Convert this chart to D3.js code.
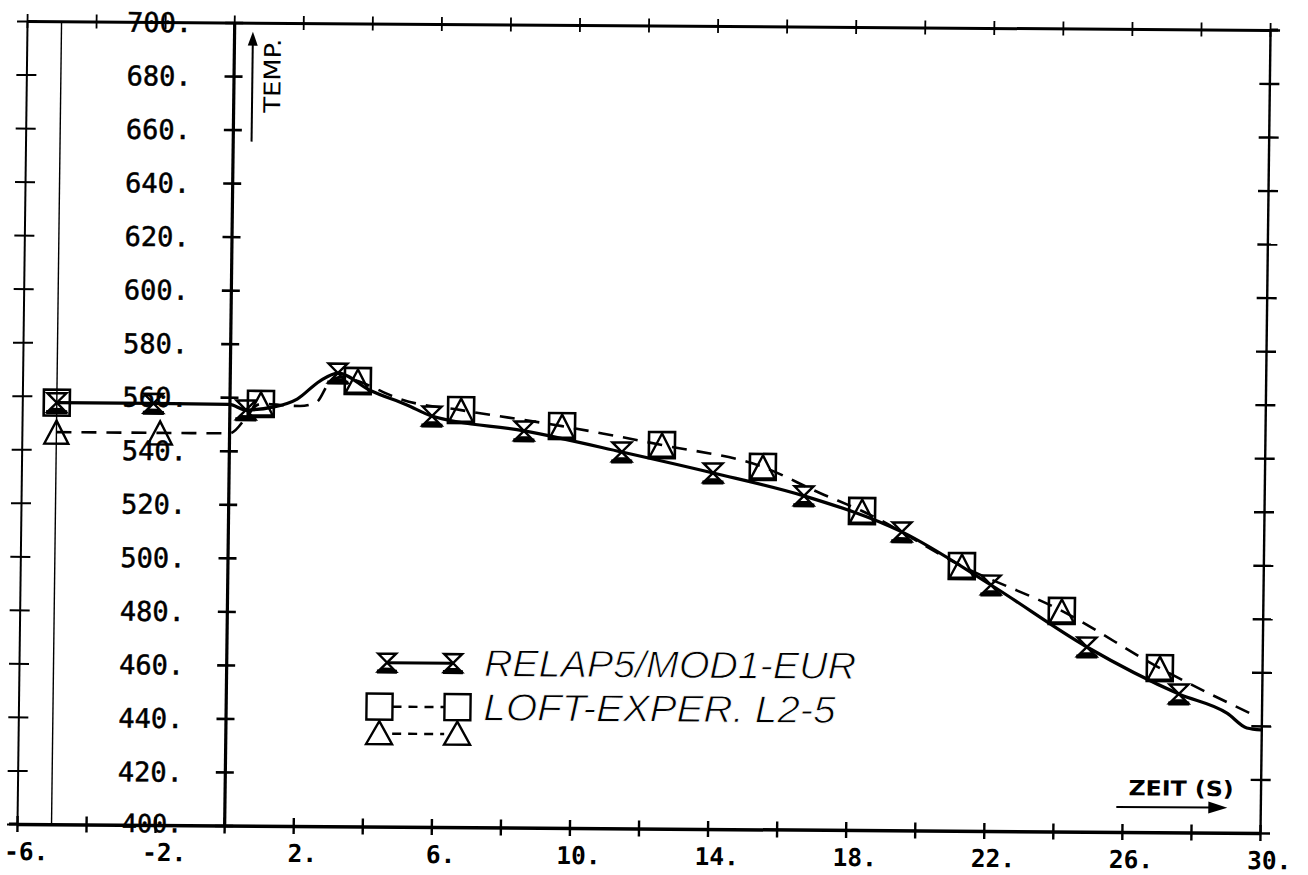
<!DOCTYPE html>
<html>
<head>
<meta charset="utf-8">
<script src="https://cdn.jsdelivr.net/npm/d3@7"></script>
<style>
  html, body { margin: 0; padding: 0; background: #fff; }
  svg { display: block; }
</style>
</head>
<body>
<script>
// ---- data -------------------------------------------------------------
// RELAP5/MOD1-EUR calculation (solid line), time in s, temperature
const relapTime = [-5, -2.2, 0, 0.48, 1.26, 1.96, 2.61, 3.13, 4.06, 5.14, 5.87, 8.54, 11.38, 14.03, 16.67, 19.52, 22.12, 24.92, 27.6, 29.0, 29.58, 30];
const relapTemp = [557.5, 557.5, 557.3, 555.3, 556.4, 559.5, 566.3, 569.3, 563.0, 557.6, 553.5, 548.2, 540.6, 533.0, 524.7, 511.5, 491.9, 469.0, 451.7, 444.7, 439.2, 438.5];
// hourglass symbols placed on the calculated curve
const relapMarkTime = [-5, -2.2, 0.48, 3.13, 5.87, 8.54, 11.38, 14.03, 16.67, 19.52, 22.12, 24.92, 27.6];
const relapMarkTemp = [557.5, 557.5, 555.3, 569.3, 553.5, 548.2, 540.6, 533.0, 524.7, 511.5, 491.9, 469.0, 451.7];

// LOFT experiment L2-5 (dashed line)
const loftTime = [-5, -2, 0, 0.91, 2.04, 2.53, 2.9, 3.3, 3.71, 5.0, 6.71, 9.64, 12.54, 15.47, 17.13, 18.36, 21.27, 24.18, 27.04, 29.9];
const loftTemp = [546.5, 546.5, 546.5, 557.6, 556.9, 558.5, 566.0, 568.0, 566.4, 559.5, 555.8, 550.1, 543.3, 535.4, 525.8, 519.2, 498.9, 482.4, 461.3, 443.3];
// measurement symbols: squares and triangles
const squareTime = [-5, 0.91, 3.71, 6.71, 9.64, 12.54, 15.47, 18.36, 21.27, 24.18, 27.04];
const squareTemp = [557.5, 557.6, 566.4, 555.8, 550.1, 543.3, 535.4, 519.2, 498.9, 482.4, 461.3];
const triangleTime = [-5, -2, 0.91, 3.71, 6.71, 9.64, 12.54, 15.47, 18.36, 21.27, 24.18, 27.04];
const triangleTemp = [546.5, 546.5, 557.6, 566.4, 555.8, 550.1, 543.3, 535.4, 519.2, 498.9, 482.4, 461.3];

// start of the recorded interval
const refTime = [-5];

// axes
const timeTicks = [-6, -4, -2, 0, 2, 4, 6, 8, 10, 12, 14, 16, 18, 20, 22, 24, 26, 28, 30];
const timeLabels = [-6, -2, 2, 6, 10, 14, 18, 22, 26, 30];
const tempTicks = [400, 420, 440, 460, 480, 500, 520, 540, 560, 580, 600, 620, 640, 660, 680, 700];

const legendNames = ["RELAP5/MOD1-EUR", "LOFT-EXPER. L2-5"];

// ---- drawing ----------------------------------------------------------
const W = 1308, H = 875;
const svg = d3.select("body").append("svg").attr("width", W).attr("height", H);
svg.append("rect").attr("width", W).attr("height", H).attr("fill", "#fff");

// the plotted sheet sits slightly askew
const g = svg.append("g").attr("transform", "matrix(1,0.0072,-0.0125,1,10.3,-0.12)");

const x = d3.scaleLinear().domain([-6, 30]).range([17, 1260]);
const y = d3.scaleLinear().domain([400, 700]).range([824, 21]);

function crossTicks(sel, len, horizontal, w) {
  sel.selectAll(".tick line")
    .attr("stroke", "#000").attr("stroke-width", w)
    .attr(horizontal ? "y1" : "x1", -len)
    .attr(horizontal ? "y2" : "x2", len);
}

// thin marker line at t = -5 s
g.selectAll(".refline").data(refTime).join("line")
  .attr("x1", d => x(d)).attr("x2", d => x(d))
  .attr("y1", y(400)).attr("y2", y(700))
  .attr("stroke", "#000").attr("stroke-width", 1.4);

// bottom axis with labels
const bottomAxis = g.append("g").attr("transform", `translate(0,${y(400)})`)
  .call(d3.axisBottom(x).tickValues(timeTicks).tickSizeInner(0).tickSizeOuter(0).tickPadding(0)
    .tickFormat(d => timeLabels.includes(d) ? d + "." : ""));
bottomAxis.select(".domain").attr("stroke", "#000").attr("stroke-width", 3.5);
crossTicks(bottomAxis, 8, true, 2.4);
bottomAxis.selectAll(".tick text")
  .attr("x", 9).attr("y", 27.5).attr("dy", "0.35em")
  .attr("fill", "#000").attr("text-anchor", "middle")
  .style("font-family", "'DejaVu Sans Mono', monospace").style("font-size", "24.5px").style("font-weight", "bold");
// frame line runs a little past the left edge
g.append("line").attr("x1", 9).attr("x2", x(-6)).attr("y1", y(400)).attr("y2", y(400))
  .attr("stroke", "#000").attr("stroke-width", 3);

// top frame line
const topAxis = g.append("g").attr("transform", `translate(0,${y(700)})`)
  .call(d3.axisTop(x).tickValues(timeTicks).tickSizeInner(0).tickSizeOuter(0).tickFormat(""));
topAxis.select(".domain").attr("stroke", "#000").attr("stroke-width", 3);
crossTicks(topAxis, 7, true, 1.8);
g.append("line").attr("x1", x(30)).attr("x2", x(30) + 8).attr("y1", y(700)).attr("y2", y(700))
  .attr("stroke", "#000").attr("stroke-width", 3);

// left frame line
const leftFrame = g.append("g").attr("transform", `translate(${x(-6)},0)`)
  .call(d3.axisLeft(y).tickValues(tempTicks).tickSizeInner(0).tickSizeOuter(0).tickFormat(""));
leftFrame.select(".domain").attr("stroke", "#000").attr("stroke-width", 2);
crossTicks(leftFrame, 10, false, 2);

// right frame line
const rightFrame = g.append("g").attr("transform", `translate(${x(30)},0)`)
  .call(d3.axisRight(y).tickValues(tempTicks).tickSizeInner(0).tickSizeOuter(0).tickFormat(""));
rightFrame.select(".domain").attr("stroke", "#000").attr("stroke-width", 2.4);
crossTicks(rightFrame, 10, false, 2.4);

// temperature axis at t = 0 with labels
const yAxis = g.append("g").attr("transform", `translate(${x(0)},0)`)
  .call(d3.axisLeft(y).tickValues(tempTicks).tickSizeInner(0).tickSizeOuter(0).tickPadding(0)
    .tickFormat(d => d + "."));
yAxis.select(".domain").attr("stroke", "#000").attr("stroke-width", 3.2);
crossTicks(yAxis, 9, false, 2.6);
yAxis.selectAll(".tick text")
  .attr("x", -42).attr("dy", "0.35em").attr("fill", "#000").attr("text-anchor", "end")
  .attr("stroke", "#000").attr("stroke-width", 0.5)
  .style("font-family", "'DejaVu Sans Mono', monospace").style("font-size", "27px");
// the lowest label sits on the time axis; keep it clear of the time labels
yAxis.selectAll(".tick text").filter(d => d === 400)
  .attr("y", -2).style("font-size", "25px");

// axis titles
g.append("text")
  .attr("transform", `translate(263,74) rotate(-90)`)
  .attr("text-anchor", "middle").attr("dy", "0.35em")
  .attr("textLength", 74).attr("lengthAdjust", "spacingAndGlyphs")
  .style("font-family", "'DejaVu Sans', sans-serif").style("font-size", "23px")
  .text("TEMP.");
g.append("line").attr("x1", 243).attr("x2", 243).attr("y1", 140).attr("y2", 40)
  .attr("stroke", "#000").attr("stroke-width", 2);
g.append("path").attr("d", "M243,30 L238,44 L248,44 Z").attr("fill", "#000");

g.append("text")
  .attr("x", 1128).attr("y", 780).attr("dy", "0.35em")
  .attr("textLength", 105).attr("lengthAdjust", "spacingAndGlyphs")
  .style("font-family", "'DejaVu Sans', sans-serif").style("font-size", "21px").style("font-weight", "bold")
  .text("ZEIT (S)");
g.append("line").attr("x1", 1116).attr("x2", 1212).attr("y1", 799).attr("y2", 799)
  .attr("stroke", "#000").attr("stroke-width", 2);
g.append("path").attr("d", "M1227,799 L1208,793 L1208,805 Z").attr("fill", "#000");

// ---- curves -----------------------------------------------------------
const line = d3.line().x(d => x(d[0])).y(d => y(d[1])).curve(d3.curveMonotoneX);

g.append("path")
  .datum(loftTime.map((t, i) => [t, loftTemp[i]]))
  .attr("d", line).attr("fill", "none").attr("stroke", "#000")
  .attr("stroke-width", 2.6).attr("stroke-dasharray", "15,10");

g.append("path")
  .datum(relapTime.map((t, i) => [t, relapTemp[i]]))
  .attr("d", line).attr("fill", "none").attr("stroke", "#000")
  .attr("stroke-width", 3.2).attr("stroke-linejoin", "round");

// ---- symbols ----------------------------------------------------------
const hourglass = s => `M${-s},${-s}H${s}L${-s},${s}H${s}Z`;
const triangle = (w, h) => `M0,${-h / 2}L${w / 2},${h / 2}H${-w / 2}Z`;

function drawHourglass(sel, s) {
  sel.append("path").attr("d", hourglass(s))
    .attr("fill", "none").attr("stroke", "#000").attr("stroke-width", 2.4).attr("stroke-linejoin", "miter");
  sel.append("path").attr("d", `M${-s - 1},${s}H${s + 1}`)
    .attr("stroke", "#000").attr("stroke-width", 4);
  sel.append("path").attr("d", `M${-s * 0.45},${s * 0.55}L${s * 0.45},${s * 0.55}L${s},${s}H${-s}Z`)
    .attr("fill", "#000");
}

g.selectAll(".sq").data(squareTime.map((t, i) => [t, squareTemp[i]])).join("rect")
  .attr("x", d => x(d[0]) - 13).attr("y", d => y(d[1]) - 13)
  .attr("width", 26).attr("height", 26)
  .attr("fill", "none").attr("stroke", "#000").attr("stroke-width", 2.6);

g.selectAll(".tri").data(triangleTime.map((t, i) => [t, triangleTemp[i]])).join("path")
  .attr("transform", d => `translate(${x(d[0])},${y(d[1])})`)
  .attr("d", triangle(24, 23))
  .attr("fill", "none").attr("stroke", "#000").attr("stroke-width", 2.4).attr("stroke-linejoin", "miter");

g.selectAll(".hg").data(relapMarkTime.map((t, i) => [t, relapMarkTemp[i]])).join("g")
  .attr("transform", d => `translate(${x(d[0])},${y(d[1])})`)
  .each(function () { drawHourglass(d3.select(this), 9.5); });

// ---- legend -----------------------------------------------------------
const lg = g.append("g");
lg.append("line").attr("x1", 385).attr("x2", 451).attr("y1", 660).attr("y2", 660)
  .attr("stroke", "#000").attr("stroke-width", 3);
[385, 451].forEach(cx => drawHourglass(lg.append("g").attr("transform", `translate(${cx},660)`), 9));

lg.append("line").attr("x1", 391).attr("x2", 443).attr("y1", 704).attr("y2", 704)
  .attr("stroke", "#000").attr("stroke-width", 2.4).attr("stroke-dasharray", "9,7");
lg.append("line").attr("x1", 391).attr("x2", 443).attr("y1", 731).attr("y2", 731)
  .attr("stroke", "#000").attr("stroke-width", 2.4).attr("stroke-dasharray", "9,7");
[378, 456].forEach(cx => {
  lg.append("rect").attr("x", cx - 13).attr("y", 691).attr("width", 26).attr("height", 26)
    .attr("fill", "none").attr("stroke", "#000").attr("stroke-width", 2.4);
  lg.append("path").attr("transform", `translate(${cx},730)`).attr("d", triangle(26, 23))
    .attr("fill", "none").attr("stroke", "#000").attr("stroke-width", 2.4);
});

lg.selectAll(".lgtext").data(legendNames).join("text")
  .attr("x", 482).attr("y", (d, i) => i === 0 ? 673 : 717)
  .attr("textLength", (d, i) => i === 0 ? 372 : 352)
  .attr("lengthAdjust", "spacingAndGlyphs")
  .attr("fill", "#000").attr("stroke", "#fff").attr("stroke-width", 0.9)
  .style("font-family", "'Liberation Sans', sans-serif").style("font-size", "38px").style("font-style", "italic")
  .text(d => d);
</script>
</body>
</html>
